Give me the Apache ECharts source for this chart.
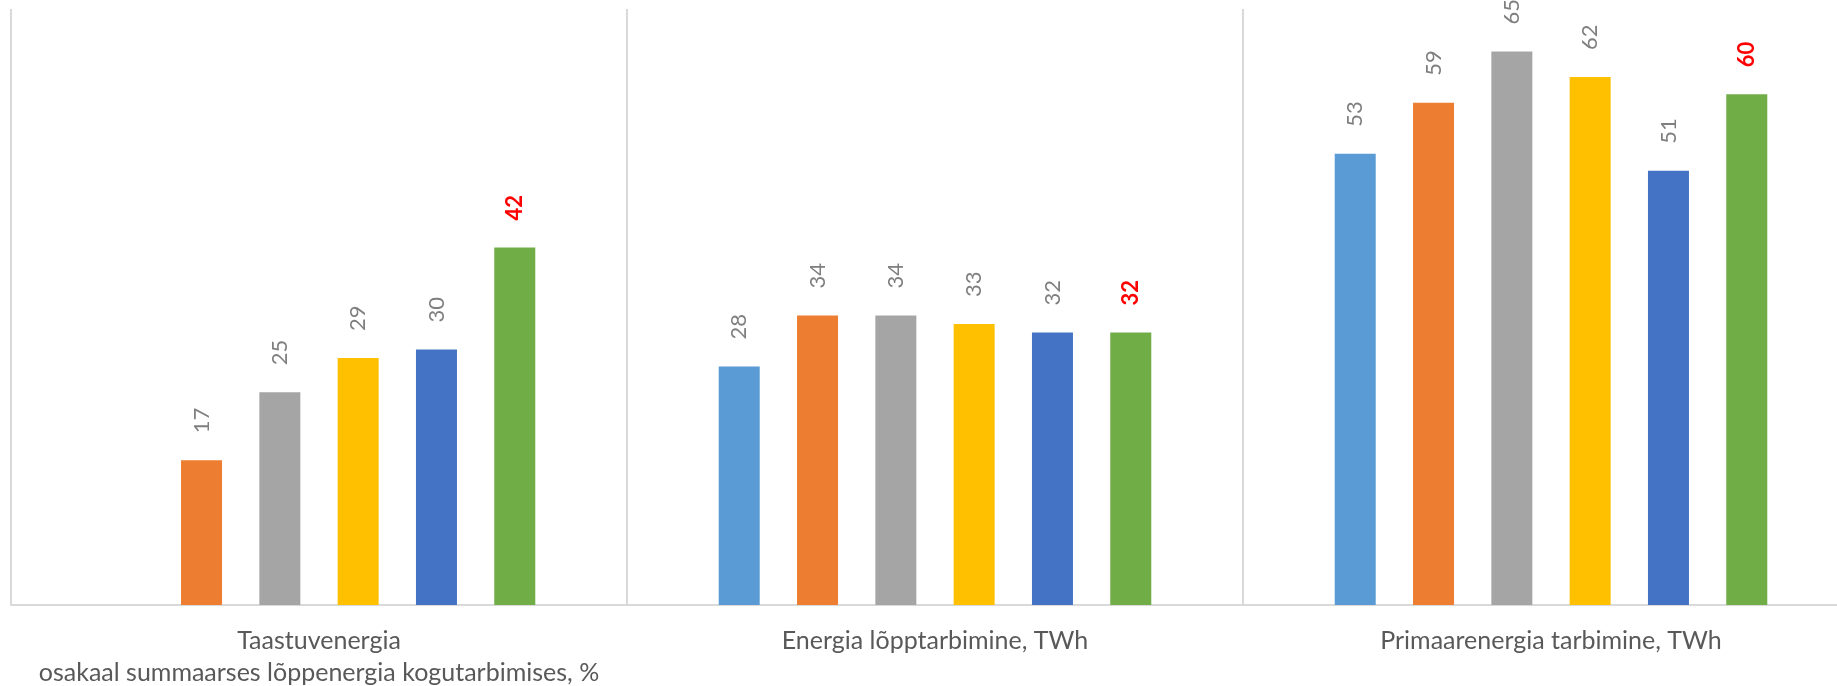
<!DOCTYPE html>
<html>
<head>
<meta charset="utf-8">
<script src="https://cdn.jsdelivr.net/npm/echarts@6/dist/echarts.min.js"></script>
<style>
  html, body { margin: 0; padding: 0; background: #ffffff; }
  #chart { width: 1837px; height: 686px; }
</style>
</head>
<body>
<div id="chart"></div>
<script>
// Energy indicators, one bar per scenario/year in each group
const categories = [
  'Taastuvenergia\nosakaal summaarses lõppenergia kogutarbimises, %',
  'Energia lõpptarbimine, TWh',
  'Primaarenergia tarbimine, TWh'
];
const seriesA = [null, 28, 53];
const seriesB = [17, 34, 59];
const seriesC = [25, 34, 65];
const seriesD = [29, 33, 62];
const seriesE = [30, 32, 51];
const seriesF = [42, 32, 60];

const colors = ['#5B9BD5', '#ED7D31', '#A5A5A5', '#FFC000', '#4472C4', '#70AD47'];
const values = [seriesA, seriesB, seriesC, seriesD, seriesE, seriesF];
const FONT = 'Lato, "Open Sans", sans-serif';

const series = values.map((data, i) => {
  const last = i === values.length - 1;
  return {
    type: 'bar',
    data: data,
    barWidth: 41,
    barGap: '91%',
    itemStyle: { color: colors[i] },
    label: {
      show: true,
      position: 'top',
      distance: 27,
      rotate: 90,
      align: 'left',
      verticalAlign: 'middle',
      fontFamily: FONT,
      fontSize: 22,
      fontWeight: last ? 'bold' : 'normal',
      color: last ? '#FF0000' : '#7F7F7F'
    }
  };
});

const chart = echarts.init(document.getElementById('chart'));
chart.setOption({
  animation: false,
  backgroundColor: '#ffffff',
  // the plot runs past the right edge, so its last boundary line is off-canvas
  grid: { left: 11, width: 1848, top: 9, bottom: 81, containLabel: false, outerBoundsMode: 'none' },
  xAxis: {
    type: 'category',
    data: categories,
    boundaryGap: true,
    axisLine: { show: true, lineStyle: { color: '#D9D9D9', width: 2 } },
    axisTick: { show: false },
    splitLine: { show: true, interval: 0, lineStyle: { color: '#D9D9D9', width: 2 } },
    axisLabel: {
      interval: 0,
      margin: 20,
      fontFamily: FONT,
      fontSize: 25,
      lineHeight: 32,
      color: '#595959'
    }
  },
  yAxis: {
    type: 'value',
    min: 0,
    max: 70,
    interval: 10,
    axisLine: { show: false },
    axisTick: { show: false },
    axisLabel: { show: false },
    splitLine: { show: false }
  },
  series: series
});
</script>
</body>
</html>
